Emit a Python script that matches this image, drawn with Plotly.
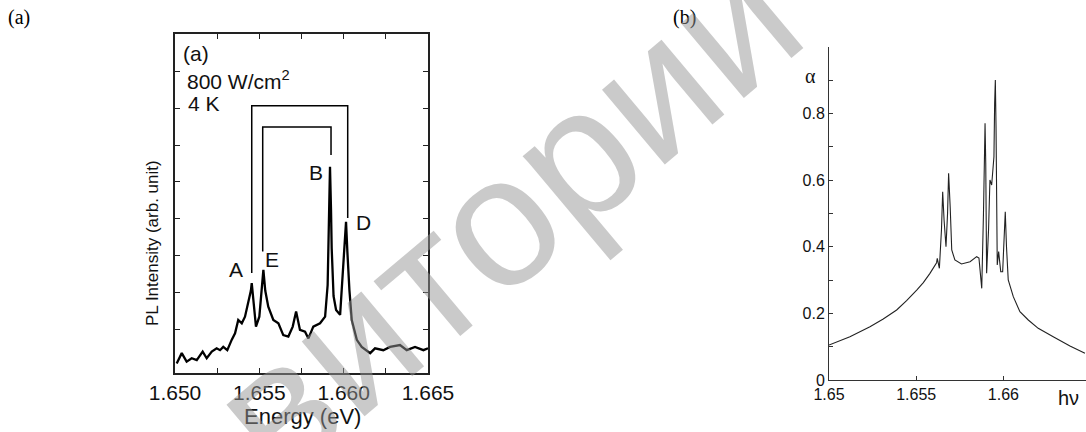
import plotly.graph_objects as go

# ---------------- Panel (a): PL spectrum ----------------
pl_energy = [1.65010, 1.65040, 1.65069, 1.65099, 1.65129, 1.65164, 1.65188, 1.65218,
             1.65247, 1.65267, 1.65286, 1.65310, 1.65336, 1.65356, 1.65375, 1.65396,
             1.65415, 1.65435, 1.65450, 1.65455, 1.65465, 1.65480, 1.65500, 1.65515,
             1.65524, 1.65535, 1.65553, 1.65583, 1.65613, 1.65642, 1.65672, 1.65698,
             1.65718, 1.65741, 1.65771, 1.65791, 1.65820, 1.65860, 1.65890, 1.65905,
             1.65912, 1.65919, 1.65925, 1.65929, 1.65940, 1.65955, 1.65979, 1.65998,
             1.66008, 1.66014, 1.66022, 1.66034, 1.66048, 1.66078, 1.66107, 1.66157,
             1.66186, 1.66235, 1.66275, 1.66334, 1.66374, 1.66423, 1.66473, 1.66500]
pl_intensity = [0.07, 0.35, 0.12, 0.21, 0.16, 0.39, 0.21, 0.39,
                0.48, 0.43, 0.52, 0.43, 0.71, 0.89, 1.25, 1.16,
                1.34, 1.70, 2.05, 2.25, 1.80, 1.07, 1.34, 2.10,
                2.61, 2.05, 1.61, 1.25, 1.16, 0.84, 0.80, 1.07,
                1.48, 0.98, 0.93, 0.75, 1.07, 1.16, 1.34, 2.20,
                4.20, 5.41, 4.24, 3.20, 1.90, 1.52, 1.39, 2.70,
                3.60, 3.92, 3.10, 2.07, 1.25, 0.71, 0.52, 0.35,
                0.48, 0.43, 0.52, 0.57, 0.43, 0.52, 0.43, 0.48]

outer_bracket_x = [1.65455, 1.65455, 1.66024, 1.66024]
outer_bracket_y = [2.53, 7.07, 7.07, 4.02]
inner_bracket_x = [1.65520, 1.65520, 1.65925, 1.65925]
inner_bracket_y = [3.11, 6.49, 6.49, 5.73]

pl_tick_vals = [1.650, 1.655, 1.660, 1.665]
pl_tick_text = ["1.650", "1.655", "1.660", "1.665"]
pl_y_ticks = [1, 2, 3, 4, 5, 6, 7, 8]

peak_labels = ["A", "E", "B", "D"]
peak_label_x = [1.65360, 1.65577, 1.65835, 1.66118]
peak_label_y = [2.63, 2.90, 5.27, 3.90]

# ---------------- Panel (b): absorption ----------------
abs_energy = [1.65000, 1.65120, 1.65235, 1.65311, 1.65388, 1.65445, 1.65503, 1.65541,
              1.65579, 1.65617, 1.65621, 1.65633, 1.65645, 1.65652, 1.65660, 1.65671,
              1.65680, 1.65686, 1.65695, 1.65704, 1.65722, 1.65760, 1.65809, 1.65847,
              1.65860, 1.65876, 1.65886, 1.65891, 1.65895, 1.65899, 1.65904, 1.65915,
              1.65923, 1.65933, 1.65942, 1.65946, 1.65950, 1.65954, 1.65958, 1.65965,
              1.65973, 1.65985, 1.65996, 1.66005, 1.66011, 1.66018, 1.66028, 1.66057,
              1.66095, 1.66143, 1.66200, 1.66286, 1.66382, 1.66468]
abs_alpha = [0.105, 0.130, 0.160, 0.183, 0.210, 0.238, 0.270, 0.292,
             0.320, 0.352, 0.365, 0.335, 0.450, 0.565, 0.480, 0.400,
             0.500, 0.620, 0.520, 0.390, 0.360, 0.348, 0.355, 0.370,
             0.366, 0.275, 0.500, 0.670, 0.770, 0.650, 0.320, 0.450,
             0.600, 0.585, 0.640, 0.670, 0.830, 0.900, 0.760, 0.345,
             0.385, 0.325, 0.325, 0.450, 0.505, 0.400, 0.300, 0.250,
             0.205, 0.180, 0.155, 0.130, 0.102, 0.080]

abs_x_ticks = [1.65, 1.655, 1.66]
abs_x_text = ["1.65", "1.655", "1.66"]
abs_y_ticks = [0, 0.2, 0.4, 0.6, 0.8]
abs_y_text = ["0", "0.2", "0.4", "0.6", "0.8"]

W, H = 1086, 432
def px(x):
    return x / W
def py(y):
    return 1 - y / H

fig = go.Figure()

fig.add_trace(go.Scatter(x=pl_energy, y=pl_intensity, mode="lines",
                         line=dict(color="black", width=2.3), xaxis="x", yaxis="y",
                         showlegend=False, hoverinfo="skip"))
for bx, by in [(outer_bracket_x, outer_bracket_y), (inner_bracket_x, inner_bracket_y)]:
    fig.add_trace(go.Scatter(x=bx, y=by, mode="lines",
                             line=dict(color="black", width=1.5), xaxis="x", yaxis="y",
                             showlegend=False, hoverinfo="skip"))

fig.add_trace(go.Scatter(x=abs_energy, y=abs_alpha, mode="lines",
                         line=dict(color="#222222", width=1.1), xaxis="x2", yaxis="y2",
                         showlegend=False, hoverinfo="skip"))

sans = "Liberation Sans, Arial, sans-serif"
serif = "Liberation Serif, Times New Roman, serif"

fig.update_layout(
    template="none",
    width=W, height=H,
    margin=dict(l=0, r=0, t=0, b=0, pad=0, autoexpand=False),
    paper_bgcolor="white", plot_bgcolor="white",
    showlegend=False,
    xaxis=dict(domain=[px(175), px(428)], range=[1.650, 1.665], automargin=False,
               tickvals=pl_tick_vals, ticktext=pl_tick_text,
               ticks="inside", ticklen=5, tickwidth=1, tickcolor="#222",
               minor=dict(dtick=0.0025, tick0=1.65, ticks="inside", ticklen=5,
                          tickwidth=1, tickcolor="#222", showgrid=False),
               showline=True, linecolor="#222", linewidth=1.6, mirror="allticks",
               showgrid=False, zeroline=False,
               tickfont=dict(family=sans, size=21, color="#111"), anchor="y"),
    yaxis=dict(domain=[py(373), py(34)], range=[-0.19, 9.02], automargin=False,
               tickvals=pl_y_ticks, showticklabels=False,
               ticks="inside", ticklen=5, tickwidth=1, tickcolor="#222",
               showline=True, linecolor="#222", linewidth=1.6, mirror="allticks",
               showgrid=False, zeroline=False, anchor="x"),
    xaxis2=dict(domain=[px(829), 1.0], range=[1.65, 1.66474], automargin=False,
                tickvals=abs_x_ticks, ticktext=abs_x_text,
                ticks="inside", ticklen=4, tickwidth=1, tickcolor="#333",
                showline=True, linecolor="#333", linewidth=1, mirror=False,
                showgrid=False, zeroline=False,
                tickfont=dict(family=sans, size=16, color="#111"), anchor="y2"),
    yaxis2=dict(domain=[py(380), py(46.7)], range=[0, 1.0], automargin=False,
                tickvals=abs_y_ticks, ticktext=abs_y_text,
                ticks="inside", ticklen=4, tickwidth=1, tickcolor="#333",
                minor=dict(dtick=0.1, tick0=0, ticks="inside", ticklen=4,
                           tickwidth=1, tickcolor="#333", showgrid=False),
                showline=True, linecolor="#333", linewidth=1, mirror=False,
                showgrid=False, zeroline=False,
                tickfont=dict(family=sans, size=16, color="#111"), anchor="x2"),
)

ann = []
# outer panel letters
ann.append(dict(text="(a)", x=px(6), y=py(17), xref="paper", yref="paper",
                xanchor="left", yanchor="middle", showarrow=False,
                font=dict(family=serif, size=20, color="black")))
ann.append(dict(text="(b)", x=px(671), y=py(17), xref="paper", yref="paper",
                xanchor="left", yanchor="middle", showarrow=False,
                font=dict(family=serif, size=20, color="black")))
# panel (a) texts
ann.append(dict(text="(a)", x=px(181), y=py(53), xref="paper", yref="paper",
                xanchor="left", yanchor="middle", showarrow=False,
                font=dict(family=sans, size=21, color="#111")))
ann.append(dict(text="800 W/cm<sup>2</sup>", x=px(185), y=py(80), xref="paper", yref="paper",
                xanchor="left", yanchor="middle", showarrow=False,
                font=dict(family=sans, size=21, color="#111")))
ann.append(dict(text="4 K", x=px(186), y=py(104), xref="paper", yref="paper",
                xanchor="left", yanchor="middle", showarrow=False,
                font=dict(family=sans, size=21, color="#111")))
for t, lx, ly in zip(peak_labels, peak_label_x, peak_label_y):
    ann.append(dict(text=t, x=lx, y=ly, xref="x", yref="y",
                    xanchor="center", yanchor="middle", showarrow=False,
                    font=dict(family=sans, size=21, color="#111")))
ann.append(dict(text="Energy (eV)", x=px(302), y=py(416), xref="paper", yref="paper",
                xanchor="center", yanchor="middle", showarrow=False,
                font=dict(family=sans, size=22, color="#111")))
ann.append(dict(text="PL Intensity (arb. unit)", x=px(152), y=py(243), xref="paper", yref="paper",
                xanchor="center", yanchor="middle", showarrow=False, textangle=-90,
                font=dict(family=sans, size=17, color="#111")))
# panel (b) texts
ann.append(dict(text="α", x=px(810), y=py(76), xref="paper", yref="paper",
                xanchor="center", yanchor="middle", showarrow=False,
                font=dict(family=serif, size=20, color="#111")))
ann.append(dict(text="hν", x=px(1068), y=py(398), xref="paper", yref="paper",
                xanchor="center", yanchor="middle", showarrow=False,
                font=dict(family=sans, size=20, color="#111")))
# watermark
ann.append(dict(text="витории", x=px(505), y=py(215), xref="paper", yref="paper",
                xanchor="center", yanchor="middle", showarrow=False, textangle=-40,
                font=dict(family=sans, size=185, color="rgba(150,150,150,0.5)")))

fig.update_layout(annotations=ann)
fig.write_html("out.html",
               config={"displayModeBar": False, "staticPlot": True},
               post_script="document.body.style.margin='0px';"
                           "document.body.style.overflow='hidden';")
